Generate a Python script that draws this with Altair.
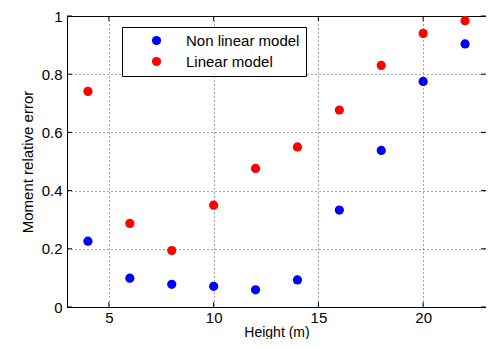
import altair as alt
import pandas as pd

heights = [4, 6, 8, 10, 12, 14, 16, 18, 20, 22]
nonlinear = [0.226, 0.099, 0.078, 0.071, 0.059, 0.093, 0.333, 0.538, 0.775, 0.904]
linear = [0.741, 0.287, 0.194, 0.350, 0.476, 0.550, 0.677, 0.830, 0.940, 0.984]
series_names = ["Non linear model", "Linear model"]
series_colors = ["#0000FF", "#FF0000"]
x_ticks = [5, 10, 15, 20]
y_ticks = [0, 0.2, 0.4, 0.6, 0.8, 1]

W, H = 419, 291
FONT = "Liberation Sans"

rows = []
for h, v in zip(heights, nonlinear):
    rows.append({"h": h, "v": v, "model": series_names[0]})
for h, v in zip(heights, linear):
    rows.append({"h": h, "v": v, "model": series_names[1]})
df = pd.DataFrame(rows)

xs = alt.Scale(domain=[3, 23], nice=False, zero=False)
ys = alt.Scale(domain=[0, 1], nice=False)
x_axis = alt.Axis(values=x_ticks, grid=True, ticks=False, labelPadding=3,
                  titlePadding=0, titleFontSize=14, format="d")
y_axis = alt.Axis(values=y_ticks, grid=True, ticks=False, labelPadding=5, titlePadding=6,
                  labelExpr="datum.value == 0 ? '0' : datum.value == 1 ? '1' : format(datum.value, '.1f')")
XT = "Height (m)"
YT = "Moment relative error"

points = alt.Chart(df).mark_point(filled=True, size=85, opacity=1).encode(
    x=alt.X("h:Q", scale=xs, title=XT, axis=x_axis),
    y=alt.Y("v:Q", scale=ys, title=YT, axis=y_axis),
    color=alt.Color("model:N", sort=series_names,
                    scale=alt.Scale(domain=series_names, range=series_colors),
                    legend=alt.Legend(title=None, orient="none", legendX=55, legendY=11,
                                      strokeColor="black", fillColor="white", padding=6,
                                      rowPadding=5, symbolOffset=21, labelOffset=22,
                                      symbolSize=85, symbolType="circle",
                                      labelFontSize=15, labelFont=FONT, labelColor="black")),
)

xt = pd.DataFrame({"t": x_ticks})
yt = pd.DataFrame({"t": y_ticks})
tick_len = 5
xtick_bottom = alt.Chart(xt).mark_rule(color="black").encode(
    x=alt.X("t:Q", scale=xs, title=XT, axis=x_axis), y=alt.value(H), y2=alt.value(H - tick_len))
xtick_top = alt.Chart(xt).mark_rule(color="black").encode(
    x=alt.X("t:Q", scale=xs, title=XT, axis=x_axis), y=alt.value(0), y2=alt.value(tick_len))
ytick_left = alt.Chart(yt).mark_rule(color="black").encode(
    y=alt.Y("t:Q", scale=ys, title=YT, axis=y_axis), x=alt.value(0), x2=alt.value(tick_len))
ytick_right = alt.Chart(yt).mark_rule(color="black").encode(
    y=alt.Y("t:Q", scale=ys, title=YT, axis=y_axis), x=alt.value(W), x2=alt.value(W - tick_len))

chart = alt.layer(points, xtick_bottom, xtick_top, ytick_left, ytick_right).properties(
    width=W, height=H,
    background="white",
    autosize=alt.AutoSizeParams(type="none"),
    padding={"left": 59, "top": 8, "right": 0, "bottom": 32},
).configure_view(stroke="black", strokeWidth=1).configure_axis(
    domainColor="black", domainWidth=1, gridColor="#222222", gridDash=[1, 3], gridWidth=1,
    gridOpacity=0.8, labelFont=FONT, labelFontSize=15, labelColor="black",
    titleFont=FONT, titleFontSize=15, titleFontWeight="normal", titleColor="black",
)

chart.save("out.html", embed_options={"renderer": "svg", "actions": False})
